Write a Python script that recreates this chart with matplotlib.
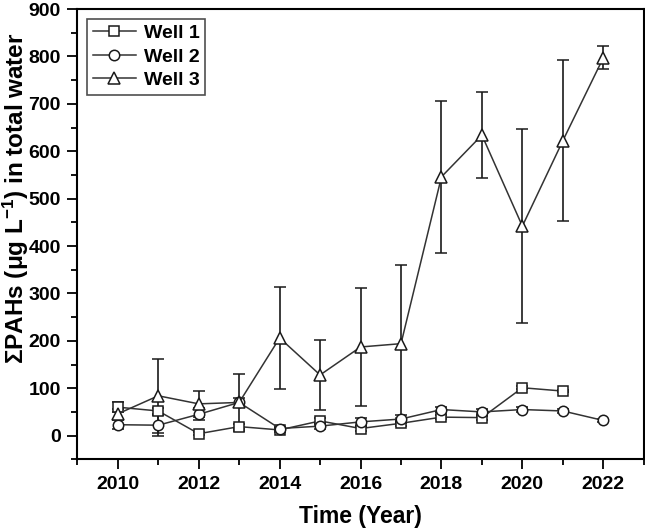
import numpy as np
import matplotlib.pyplot as plt
from matplotlib.ticker import MultipleLocator
from matplotlib.lines import Line2D

plt.rcParams['font.family'] = ['Liberation Sans', 'DejaVu Sans']
plt.rcParams['mathtext.fontset'] = 'custom'
plt.rcParams['mathtext.rm'] = 'Liberation Sans:bold'
plt.rcParams['mathtext.it'] = 'Liberation Sans:bold'
plt.rcParams['mathtext.bf'] = 'Liberation Sans:bold'

# data
years_w1 = [2010, 2011, 2012, 2013, 2014, 2015, 2016, 2017, 2018, 2019, 2020, 2021]
well1 = [60, 52, 4, 19, 12, 31, 15, 26, 39, 38, 101, 94]
well1_err = [11, 6, 3, 5, 4, 7, 5, 5, 4, 4, 3, 3]

years = [2010, 2011, 2012, 2013, 2014, 2015, 2016, 2017, 2018, 2019, 2020, 2021, 2022]
well2 = [23, 22, 45, 70, 15, 20, 29, 35, 55, 50, 55, 52, 32]
well2_err = [9, 22, 13, 10, 4, 6, 8, 8, 6, 6, 5, 5, 4]

well3 = [46, 84, 67, 70, 206, 128, 187, 194, 546, 634, 442, 622, 797]
well3_err = [10, 78, 28, 61, 107, 74, 124, 165, 160, 90, 205, 170, 24]


def main():
    fig = plt.figure(figsize=(6.45, 5.31), dpi=100)
    ax = fig.add_axes([0.12, 0.135, 0.878, 0.848])

    line_col = '#333333'
    style = dict(color=line_col, lw=1.1, mfc='white', mec='#1a1a1a', mew=1.1,
                 ecolor='#1a1a1a', elinewidth=1.2, capsize=4, capthick=1.2)

    series = [
        (years_w1, well1, well1_err, 's', 7.0, 'Well 1'),
        (years, well2, well2_err, 'o', 7.5, 'Well 2'),
        (years, well3, well3_err, '^', 9.0, 'Well 3'),
    ]
    handles = []
    for x, y, e, m, ms, lab in series:
        ax.errorbar(x, y, yerr=e, marker=m, ms=ms, **style)
        handles.append(Line2D([0], [0], color=line_col, lw=1.1, marker=m, ms=ms,
                              mfc='white', mec='#1a1a1a', mew=1.1, label=lab))

    ax.set_xlim(2009, 2023)
    ax.set_ylim(-50, 900)
    ax.xaxis.set_major_locator(MultipleLocator(2))
    ax.xaxis.set_minor_locator(MultipleLocator(1))
    ax.yaxis.set_major_locator(MultipleLocator(100))
    ax.yaxis.set_minor_locator(MultipleLocator(50))
    ax.tick_params(which='major', direction='out', length=7, width=1.3,
                   labelsize=14, top=False, right=False, pad=5)
    ax.tick_params(which='minor', direction='out', length=4, width=1.3,
                   top=False, right=False)
    for lbl in ax.get_xticklabels() + ax.get_yticklabels():
        lbl.set_fontweight('bold')
    for sp in ax.spines.values():
        sp.set_linewidth(1.5)

    ax.set_xlabel('Time (Year)', fontsize=16.5, fontweight='bold', labelpad=9)
    ax.set_ylabel(r'ΣPAHs (μg L$^{\mathbf{-1}}$) in total water', fontsize=17.5,
                  fontweight='bold')
    ax.yaxis.set_label_coords(-0.082, 0.58)

    leg = ax.legend(handles=handles, loc='upper left', fontsize=14, frameon=True,
                    fancybox=False, edgecolor='#222222', handlelength=2.2,
                    borderpad=0.3, labelspacing=0.3, handletextpad=0.4,
                    borderaxespad=0.5)
    leg.get_frame().set_linewidth(1.2)
    for t in leg.get_texts():
        t.set_fontweight('bold')

    fig.savefig('out.png', dpi=100, facecolor='white')


if __name__ == '__main__':
    main()
